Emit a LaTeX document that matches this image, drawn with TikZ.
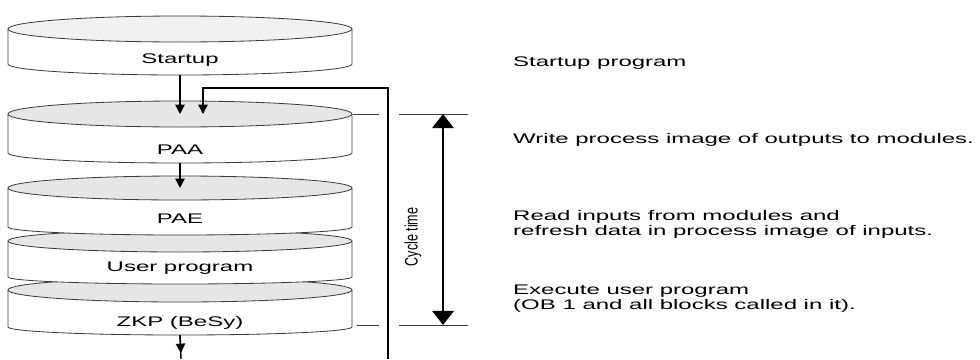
\documentclass[tikz,border=0pt]{standalone}
\usepackage{fontspec}
\usepackage{graphicx}
\setmainfont{Liberation Sans}[FakeStretch=1.72]
\newfontfamily\cyclefont{Liberation Sans}
\usetikzlibrary{arrows.meta,positioning}
\definecolor{diskline}{RGB}{60,60,60}
\definecolor{disktop}{RGB}{230,230,230}

\begin{document}
\begin{tikzpicture}[
    x=0.03cm, y=0.03cm,
    every node/.style={font=\fontsize{11.9}{12.8}\selectfont, inner sep=0pt},
    diskedge/.style={draw=diskline, line width=0.7pt},
    desc/.style={anchor=west, align=left},
    arrow/.style={-{Triangle[width=8pt,length=8pt]}, line width=1.2pt},
    tick/.style={draw=diskline, line width=0.6pt},
    cyclearrow/.style={{Triangle[width=18pt,length=12pt]}-{Triangle[width=18pt,length=12pt]}, line width=2.5pt}
]
\useasboundingbox (0,0) rectangle (980,-359);

% disks, drawn from the bottom one upwards
\foreach \nm/\lab/\ty/\rt/\by/\rb/\ly/\fc in {
    zkp/ZKP (BeSy)/290/12/327/8/323/disktop,
    user/User program/241/11/277/7/268/disktop,
    pae/PAE/188/12/227/8/219/disktop,
    paa/PAA/114/13/153/10/150/disktop,
    startup/Startup/29/13/64/11/60/disktop!55}{
  \fill[white] (8,-\ty) -- (8,-\by) arc[start angle=180, end angle=360, x radius=172, y radius=\rb] -- (352,-\ty) -- cycle;
  \draw[diskedge] (8,-\ty) -- (8,-\by) arc[start angle=180, end angle=360, x radius=172, y radius=\rb] -- (352,-\ty);
  \draw[diskedge, fill=\fc] (180,-\ty) ellipse[x radius=172, y radius=\rt];
  \node (\nm) at (180,-\ly) {\lab};
  \coordinate (\nm-top) at (180,-\ty);
  \coordinate (\nm-bot) at (180,-\by-\rb);
}

% flow
\coordinate (fb-bot) at (388,-359);
\coordinate (fb-turn) at (203,-88);
\coordinate (fb-in) at (203,-114);
\coordinate (zkp-out) at (181,-359);

\draw[arrow] (startup-bot) -- (paa-top);
\draw[arrow] (fb-bot) |- (fb-turn) -- (fb-in);
\draw[arrow] (paa-bot) -- (pae-top);
\draw[line width=1.2pt] (zkp-bot) -- (zkp-out);
\draw[arrow] (zkp-bot) -- (181,-353);

% cycle time
\draw[tick] (353,-114) -- (379,-114);
\draw[tick] (357,-325) -- (379,-325);
\draw[tick] (399,-114) -- (468,-114);
\draw[tick] (399,-325) -- (468,-325);
\coordinate (ct-top) at (443,-114);
\coordinate (ct-bot) at (443,-325);
\draw[cyclearrow] (ct-top) -- (ct-bot);
\node[rotate=90] (ctlabel) at (413,-237) {\scalebox{1}[1.45]{\cyclefont\fontsize{10.7}{12}\selectfont Cycle time}};

% descriptions
\node[desc] (d-startup) at (513,-63) {Startup program};
\node[desc] (d-paa) at (513,-140) {Write process image of outputs to modules.};
\node[desc] (d-pae) at (513,-224) {Read inputs from modules and\\refresh data in process image of inputs.};
\node[desc] (d-user) at (513,-299) {Execute user program\\(OB 1 and all blocks called in it).};
\end{tikzpicture}
\end{document}
